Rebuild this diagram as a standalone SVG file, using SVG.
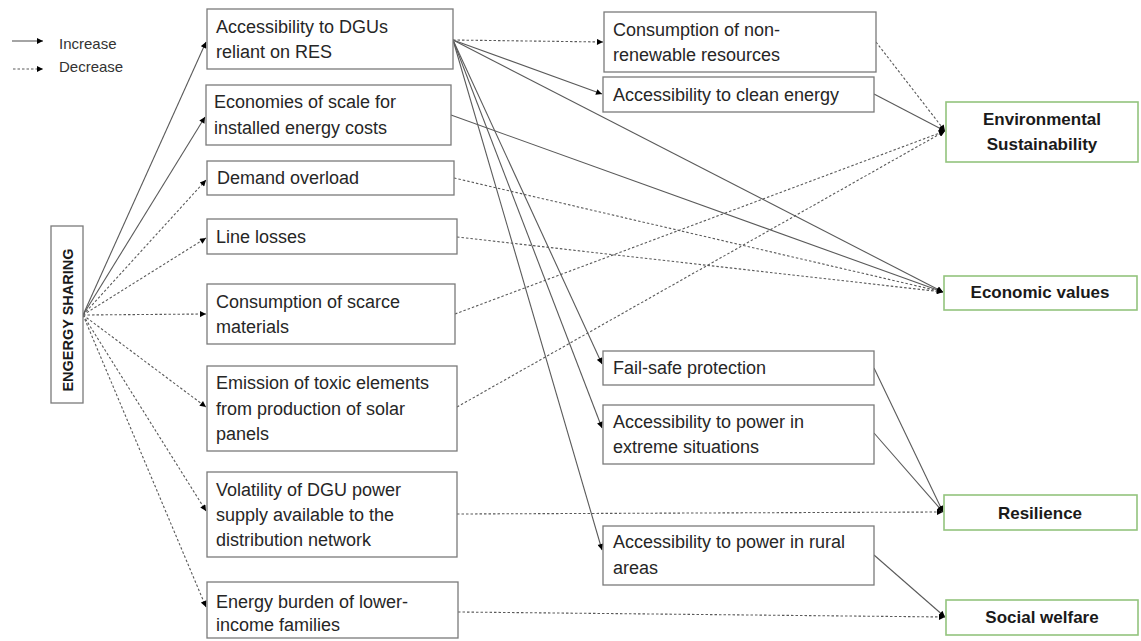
<svg xmlns="http://www.w3.org/2000/svg" width="1141" height="641" viewBox="0 0 1141 641">
<style>
.box{fill:#fff;stroke:#7a7a7a;stroke-width:1.3}
.gbox{fill:#fff;stroke:#93c47d;stroke-width:1.6}
.t{font-family:"Liberation Sans",Arial,sans-serif;font-size:18px;fill:#262626}
.b{font-family:"Liberation Sans",Arial,sans-serif;font-size:17px;font-weight:bold;fill:#1a1a1a;text-anchor:middle}
.lg{font-family:"Liberation Sans",Arial,sans-serif;font-size:15px;fill:#333}
.s{stroke:#5a5a5a;stroke-width:1.1;fill:none;marker-end:url(#ah)}
.d{stroke:#5a5a5a;stroke-width:1.1;fill:none;stroke-dasharray:2.5,2;marker-end:url(#ah)}
</style>
<defs>
<marker id="ah" viewBox="0 0 10 10" refX="10" refY="5" markerWidth="8" markerHeight="6" markerUnits="userSpaceOnUse" orient="auto">
<path d="M0,0 L10,5 L0,10 z" fill="#000"/>
</marker>
</defs>
<rect width="1141" height="641" fill="#fff"/>

<g id="legend">
<line class="s" x1="12" y1="41" x2="43" y2="41"/>
<line class="d" x1="13" y1="69" x2="43" y2="69"/>
<text class="lg" x="59" y="49">Increase</text>
<text class="lg" x="59" y="72">Decrease</text>
</g>

<g id="connectors">
<line class="s" x1="83" y1="315" x2="206" y2="42"/>
<line class="s" x1="83" y1="315" x2="205" y2="117"/>
<line class="d" x1="83" y1="315" x2="206" y2="180"/>
<line class="d" x1="83" y1="315" x2="206" y2="238"/>
<line class="d" x1="83" y1="315" x2="206" y2="314"/>
<line class="d" x1="83" y1="315" x2="206" y2="407"/>
<line class="d" x1="83" y1="315" x2="206" y2="511"/>
<line class="d" x1="83" y1="315" x2="206" y2="607"/>

<line class="d" x1="453" y1="40" x2="603" y2="42"/>
<line class="s" x1="453" y1="40" x2="602" y2="94"/>
<line class="s" x1="453" y1="40" x2="943" y2="292"/>
<line class="s" x1="453" y1="40" x2="602" y2="364"/>
<line class="s" x1="453" y1="40" x2="602" y2="428"/>
<line class="s" x1="453" y1="40" x2="602" y2="550"/>

<line class="s" x1="451" y1="115" x2="943" y2="292"/>
<line class="d" x1="454" y1="178" x2="943" y2="292"/>
<line class="d" x1="457" y1="237" x2="943" y2="292"/>

<line class="d" x1="455" y1="314" x2="945" y2="131"/>
<line class="d" x1="457" y1="407" x2="945" y2="131"/>
<line class="d" x1="876" y1="42" x2="945" y2="131"/>
<line class="s" x1="874" y1="94" x2="945" y2="131"/>

<line class="d" x1="457" y1="514" x2="943" y2="512"/>
<line class="s" x1="874" y1="368" x2="943" y2="512"/>
<line class="s" x1="874" y1="433" x2="943" y2="512"/>

<line class="s" x1="874" y1="555" x2="945" y2="617"/>
<line class="d" x1="458" y1="612" x2="945" y2="617"/>
</g>

<g id="energy-sharing">
<rect class="box" x="51" y="226" width="32" height="177"/>
<text transform="translate(73,320) rotate(-90)" style="font-family:'Liberation Sans',Arial,sans-serif;font-size:14.5px;font-weight:bold;fill:#1a1a1a;text-anchor:middle">ENGERGY SHARING</text>
</g>

<g id="n-dgus">
<rect class="box" x="207" y="9" width="246" height="60"/>
<text class="t" x="216" y="33">Accessibility to DGUs</text>
<text class="t" x="216" y="58">reliant on RES</text>
</g>
<g id="n-economies">
<rect class="box" x="206" y="85" width="245" height="60"/>
<text class="t" x="214" y="108">Economies of scale for</text>
<text class="t" x="214" y="134">installed energy costs</text>
</g>
<g id="n-demand">
<rect class="box" x="207" y="161" width="247" height="34"/>
<text class="t" x="217" y="184">Demand overload</text>
</g>
<g id="n-lineloss">
<rect class="box" x="207" y="219" width="250" height="35"/>
<text class="t" x="216" y="243">Line losses</text>
</g>
<g id="n-scarce">
<rect class="box" x="207" y="284" width="248" height="60"/>
<text class="t" x="216" y="308">Consumption of scarce</text>
<text class="t" x="216" y="333">materials</text>
</g>
<g id="n-emission">
<rect class="box" x="207" y="366" width="250" height="85"/>
<text class="t" x="216" y="389">Emission of toxic elements</text>
<text class="t" x="216" y="415">from production of solar</text>
<text class="t" x="216" y="440">panels</text>
</g>
<g id="n-volatility">
<rect class="box" x="207" y="472" width="250" height="85"/>
<text class="t" x="216" y="496">Volatility of DGU power</text>
<text class="t" x="216" y="521">supply available to the</text>
<text class="t" x="216" y="546">distribution network</text>
</g>
<g id="n-burden">
<rect class="box" x="207" y="582" width="251" height="56"/>
<text class="t" x="216" y="608">Energy burden of lower-</text>
<text class="t" x="216" y="631">income families</text>
</g>

<g id="n-nonrenew">
<rect class="box" x="604" y="12" width="272" height="60"/>
<text class="t" x="613" y="36">Consumption of non-</text>
<text class="t" x="613" y="61">renewable resources</text>
</g>
<g id="n-clean">
<rect class="box" x="603" y="77" width="271" height="35"/>
<text class="t" x="613" y="101">Accessibility to clean energy</text>
</g>
<g id="n-failsafe">
<rect class="box" x="603" y="351" width="271" height="34"/>
<text class="t" x="613" y="374">Fail-safe protection</text>
</g>
<g id="n-extreme">
<rect class="box" x="603" y="405" width="271" height="59"/>
<text class="t" x="613" y="428">Accessibility to power in</text>
<text class="t" x="613" y="453">extreme situations</text>
</g>
<g id="n-rural">
<rect class="box" x="603" y="526" width="271" height="59"/>
<text class="t" x="613" y="548">Accessibility to power in rural</text>
<text class="t" x="613" y="574">areas</text>
</g>

<g id="o-env">
<rect class="gbox" x="946" y="102" width="192" height="60"/>
<text class="b" x="1042" y="125">Environmental</text>
<text class="b" x="1042" y="150">Sustainability</text>
</g>
<g id="o-econ">
<rect class="gbox" x="944" y="276" width="193" height="34"/>
<text class="b" x="1040" y="298">Economic values</text>
</g>
<g id="o-resil">
<rect class="gbox" x="944" y="495" width="193" height="35"/>
<text class="b" x="1040" y="519">Resilience</text>
</g>
<g id="o-social">
<rect class="gbox" x="946" y="600" width="192" height="35"/>
<text class="b" x="1042" y="623">Social welfare</text>
</g>
</svg>
